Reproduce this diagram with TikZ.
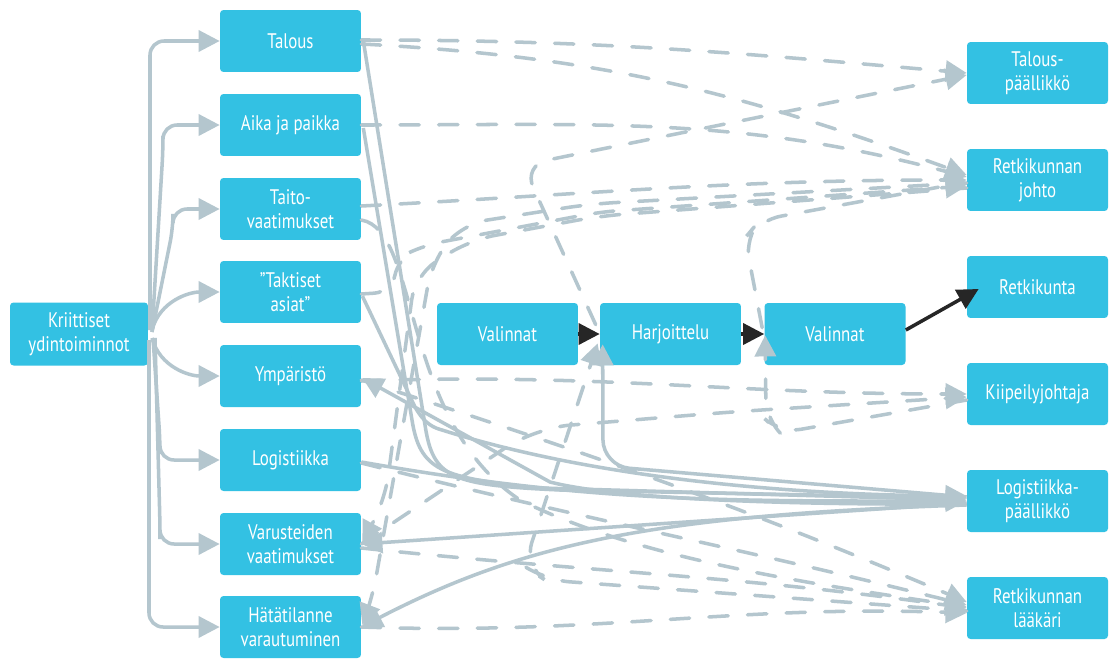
\documentclass[tikz,border=0pt]{standalone}
\usepackage{fontspec}
\setmainfont{PT Sans}[FakeStretch=0.8]
\usetikzlibrary{arrows.meta,calc}
\definecolor{boxc}{HTML}{33C1E3}
\definecolor{linec}{HTML}{B4C6CE}
\definecolor{darkc}{HTML}{262626}
\tikzset{
  box/.style={fill=boxc, rounded corners=2pt, minimum width=2.82cm, minimum height=1.24cm,
    text=white, align=center, inner sep=0pt, font=\fontsize{12}{13.5}\selectfont},
  link/.style={draw=linec, line width=2pt, -{Triangle[length=12pt,width=12pt]}},
  dlink/.style={link, dash pattern=on 11pt off 11pt, line cap=round},
  blk/.style={draw=darkc, line width=2pt, -{Triangle[length=12pt,width=12pt]}}
}
\begin{document}
\begin{tikzpicture}[x=0.02cm,y=-0.02cm]
\useasboundingbox[fill=white] (0,0) rectangle (1111,659);

% source box
\node[box, minimum width=2.76cm, minimum height=1.26cm] (k) at (79,334) {Kriittiset\\ydintoiminnot};

% core functions
\node[box] (talous) at (290.5,41)  {Talous};
\node[box] (aika)   at (290.5,125) {Aika ja paikka};
\node[box] (taito)  at (290.5,209) {Taito-\\vaatimukset};
\node[box] (takt)   at (290.5,292) {"Taktiset\\asiat"};
\node[box] (ymp)    at (290.5,376) {Ympäristö};
\node[box] (logi)   at (290.5,460) {Logistiikka};
\node[box] (varu)   at (290.5,544) {Varusteiden\\vaatimukset};
\node[box] (hata)   at (290.5,627) {Hätätilanne\\varautuminen};

% process chain
\node[box] (val1) at (507.5,334) {Valinnat};
\node[box] (harj) at (670.5,334) {Harjoittelu};
\node[box] (val2) at (835,334)   {Valinnat};

% roles
\node[box] (tp)    at (1037.5,73)  {Talous-\\päällikkö};
\node[box] (johto) at (1037.5,180) {Retkikunnan\\johto};
\node[box] (retk)  at (1037.5,287) {Retkikunta};
\node[box] (kiip)  at (1037.5,394) {Kiipeilyjohtaja};
\node[box] (lp)    at (1037.5,501) {Logistiikka-\\päällikkö};
\node[box] (laak)  at (1037.5,608) {Retkikunnan\\lääkäri};

% fan-out from the source box
\draw[link, rounded corners=8pt] (150,330) |- (talous.west);
\draw[link, rounded corners=8pt] (152,332) -- (163,150) |- (aika.west);
\draw[link, rounded corners=8pt] (152,332) -- (173,228) |- (taito.west);
\draw[link] (152,330) to[out=75,in=180] (takt.west);
\draw[link] (152,338) to[out=-75,in=180] (ymp.west);
\draw[link, rounded corners=8pt] (153,338) -- (160,440) |- (logi.west);
\draw[link, rounded corners=8pt] (155,338) -- (160,525) |- (varu.west);
\draw[link, rounded corners=8pt] (149,340) |- (hata.west);

% dashed dependencies
\draw[dlink] ($(talous.east)+(0,-1)$) to[out=0,in=175] (tp.west);
\draw[dlink] ($(talous.east)+(0,3)$) to[out=-3,in=160] ($(johto.west)+(0,-5)$);
\draw[dlink] (aika.east) to[out=0,in=165] ($(johto.west)+(0,-3)$);
\draw[dlink] ($(taito.east)+(0,-3)$) to[out=3,in=180] (johto.west);
\draw[dlink, rounded corners=14pt] ($(harj.north west)+(-4,22)$) -- (523,165) -- ($(tp.west)+(0,2)$);
\draw[dlink, rounded corners=10pt] ($(takt.east)+(0,2)$) -- (392,292) -- (398,258) -- (425,245) -- (600,212) -- ($(johto.west)+(0,6)$);
\draw[dlink, rounded corners=14pt] ($(johto.west)+(0,3)$) -- (590,204) -- (462,224) -- (432,262) -- (372,600) -- ($(hata.east)+(1,-2)$);
\draw[dlink, rounded corners=14pt] ($(johto.west)+(0,8)$) -- (600,216) -- (470,240) -- (415,275) -- (385,500) -- ($(varu.east)+(1,-2)$);
\draw[dlink, rounded corners=12pt] ($(val2.north west)+(-2,25)$) -- (745,238) -- (760,220) -- ($(johto.west)+(0,2)$);
\draw[dlink] ($(ymp.east)+(0,5)$) to[out=2,in=180] (kiip.west);
\draw[dlink, rounded corners=20pt] (varu.east) -- (535,428) -- (730,412) -- ($(kiip.west)+(0,3)$);
\draw[dlink, rounded corners=12pt] ($(kiip.west)+(0,6)$) -- (780,433) -- (766,420) -- ($(val2.south west)+(1,-30)$);
\draw[dlink] ($(ymp.east)+(0,4)$) to[out=-18,in=157] ($(laak.west)+(0,-6)$);
\draw[dlink] ($(logi.east)+(0,3)$) to[out=-14,in=166] ($(laak.west)+(0,-3)$);
\draw[dlink] ($(taito.east)+(0,11)$) .. controls (420,230) and (400,420) .. (520,500) .. controls (640,560) and (820,585) .. ($(laak.west)+(0,-1)$);
\draw[dlink] ($(varu.east)+(0,4)$) to[out=-6,in=172] (laak.west);
\draw[dlink, rounded corners=14pt] ($(laak.west)+(0,3)$) -- (545,580) -- (524,566) -- ($(harj.south west)+(-2,-22)$);
\draw[dlink] (hata.east) to[out=-2,in=178] ($(laak.west)+(0,5)$);

% solid dependencies
\draw[link] ($(talous.east)+(2,0)$) -- (425,425) .. controls (433,478) and (450,485) .. (560,490) -- ($(lp.west)+(0,-3)$);
\draw[link] ($(aika.east)+(2,3)$) -- (412,420) .. controls (420,470) and (440,478) .. (540,488) -- ($(lp.west)+(0,-1)$);
\draw[link] ($(takt.east)+(1,4)$) -- (415,407) .. controls (425,425) and (435,428) .. (442,430) .. controls (600,480) and (800,495) .. ($(lp.west)+(0,-5)$);
\draw[link] ($(lp.west)+(0,3)$) .. controls (800,505) and (620,500) .. (550,482) -- ($(ymp.east)+(1,2)$);
\draw[link] ($(logi.east)+(0,2)$) to[out=-10,in=180] (lp.west);
\draw[link] ($(lp.west)+(0,2)$) -- (varu.east);
\draw[link] ($(lp.west)+(0,4)$) .. controls (650,515) and (520,545) .. (hata.east);
\draw[link, rounded corners=15pt] ($(lp.west)+(0,-4)$) -- (603,466) -- ($(harj.south west)+(3,-21)$);

% main flow
\draw[blk] (val1.east) -- (harj.west);
\draw[blk] (harj.east) -- (val2.west);
\draw[blk] ($(val2.east)+(0,-4)$) -- ($(retk.west)+(12,2)$);
\end{tikzpicture}
\end{document}
